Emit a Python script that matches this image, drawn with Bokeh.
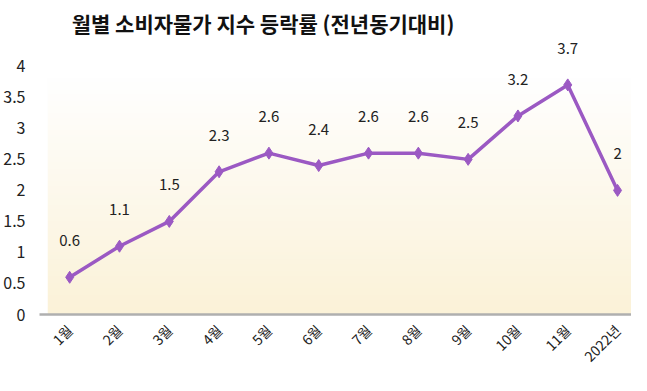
import numpy as np
from bokeh.plotting import figure
from bokeh.models import ColumnDataSource, FixedTicker, Range1d, Label
from bokeh.core.properties import value
from bokeh.embed import file_html
from bokeh.resources import INLINE

categories = ["1월", "2월", "3월", "4월", "5월", "6월", "7월", "8월", "9월", "10월", "11월", "2022년"]
values = [0.6, 1.1, 1.5, 2.3, 2.6, 2.4, 2.6, 2.6, 2.5, 3.2, 3.7, 2.0]
labels = ["0.6", "1.1", "1.5", "2.3", "2.6", "2.4", "2.6", "2.6", "2.5", "3.2", "3.7", "2"]
y_ticks = [0, 0.5, 1, 1.5, 2, 2.5, 3, 3.5, 4]
title_text = "월별 소비자물가 지수 등락률 (전년동기대비)"

FONT = "Noto Sans CJK KR"
xs = list(range(1, len(categories) + 1))
src = ColumnDataSource(dict(x=xs, y=values, lab=labels))

p = figure(width=631, height=375, output_backend="svg", toolbar_location=None,
           x_range=Range1d(0.394, 12.28), y_range=Range1d(0, 5.06),
           min_border_left=37, min_border_right=0, min_border_top=0, min_border_bottom=60)

p.outline_line_color = None
p.grid.grid_line_color = None
p.background_fill_color = "white"
p.border_fill_color = "white"

# gradient backdrop (white at top -> pale cream at bottom)
n = 100
top = np.array([255, 255, 255], dtype=float)
bot = np.array([251, 242, 216], dtype=float)
img = np.zeros((n, 2), dtype=np.uint32)
view = img.view(dtype=np.uint8).reshape((n, 2, 4))
for i in range(n):
    t = i / (n - 1)  # 0 at bottom row
    c = bot * (1 - t) + top * t
    view[i, :, 0] = int(c[0]); view[i, :, 1] = int(c[1]); view[i, :, 2] = int(c[2]); view[i, :, 3] = 255
p.image_rgba(image=[img], x=0.56, y=0, dw=12.0, dh=3.83, level="image")

p.line("x", "y", source=src, line_color="#9B59C3", line_width=3.5)
p.scatter("x", "y", source=src, marker="diamond", size=12, fill_color="#9B59C3", line_color="#9B59C3")
p.text("x", "y", text="lab", source=src, y_offset=-31, text_align="center", text_baseline="bottom",
       text_font=value(FONT), text_font_size="15px", text_color="#222222")

p.add_layout(Label(x=1.04, y=4.69, text=title_text, text_font=FONT, text_font_size="21px",
                   text_font_style="bold", text_color="#111111", text_baseline="middle",
                   text_align="left"))

p.xaxis.ticker = FixedTicker(ticks=xs)
p.xaxis.major_label_overrides = {x: c for x, c in zip(xs, categories)}
p.xaxis.major_label_orientation = np.pi / 4
p.xaxis.major_label_text_font = FONT
p.xaxis.major_label_text_font_size = "14px"
p.xaxis.major_label_text_color = "#222222"
p.xaxis.major_tick_line_color = None
p.xaxis.minor_tick_line_color = None
p.xaxis.major_tick_out = 0
p.xaxis.major_tick_in = 0
p.xaxis.axis_line_color = "#AFAFAF"
p.xaxis.axis_line_width = 2.5
p.xaxis.major_label_standoff = 13

p.yaxis.ticker = FixedTicker(ticks=y_ticks)
p.yaxis.major_label_text_font = FONT
p.yaxis.major_label_text_font_size = "16px"
p.yaxis.major_label_text_color = "#222222"
p.yaxis.axis_line_color = None
p.yaxis.major_tick_line_color = None
p.yaxis.minor_tick_line_color = None
p.yaxis.major_tick_out = 0
p.yaxis.major_tick_in = 0
p.yaxis.major_label_standoff = 14

open("out.html", "w").write(file_html(p, INLINE))
